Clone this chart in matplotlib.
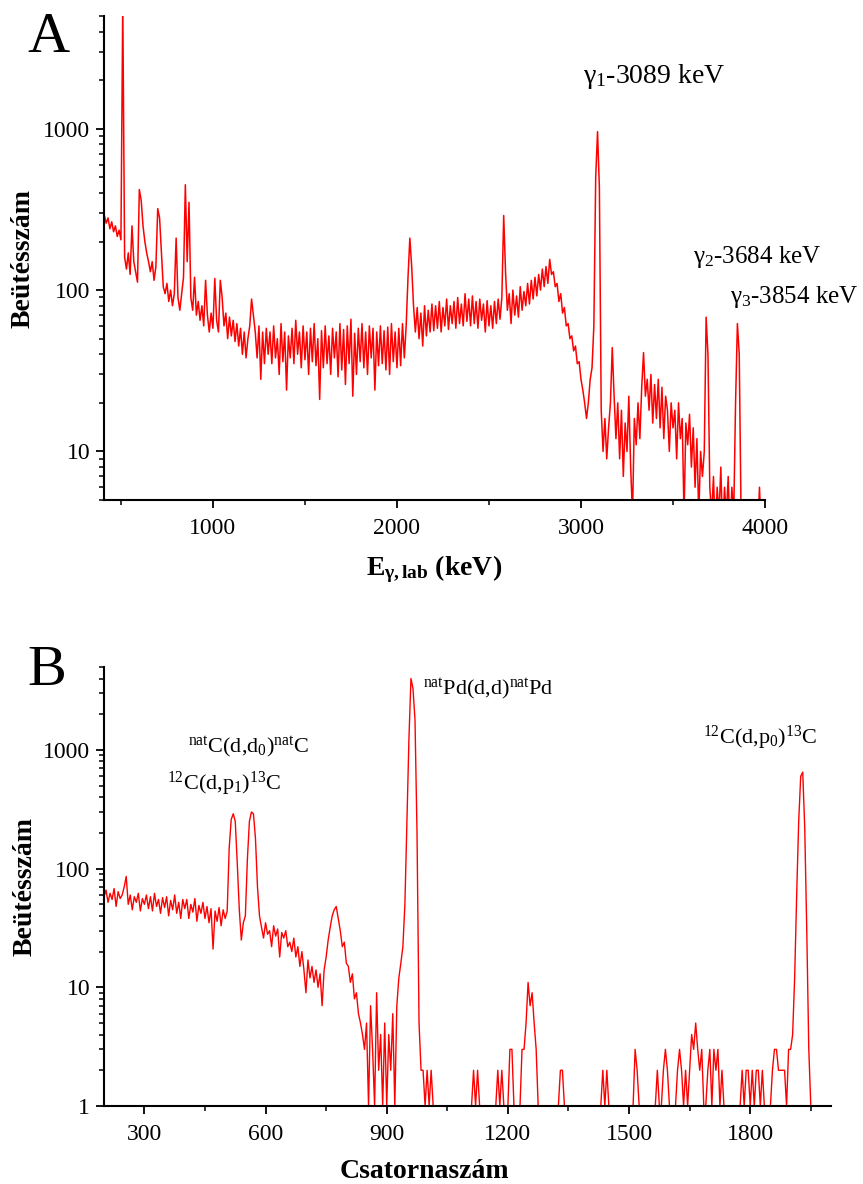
import numpy as np
import matplotlib
matplotlib.use('Agg')
import matplotlib.pyplot as plt
from matplotlib.ticker import LogLocator, MultipleLocator, NullFormatter, FuncFormatter

plt.rcParams['font.family'] = ['Liberation Serif', 'DejaVu Serif']
plt.rcParams['mathtext.fontset'] = 'custom'
plt.rcParams['mathtext.rm'] = 'Liberation Serif'
plt.rcParams['mathtext.it'] = 'Liberation Serif:italic'
plt.rcParams['mathtext.bf'] = 'Liberation Serif:bold'

# ---------------- Panel A: gamma spectrum (counts every 10 keV from 410 keV) ----------------
energy_start_keV = 410
energy_step_keV = 10
counts_A = [
    290, 260, 280, 240, 265, 230, 250, 215, 235, 205,      # 410-500
    6000, 160, 135, 170, 125, 250, 150, 130, 112, 420,     # 510-600
    360, 250, 200, 170, 150, 130, 150, 115, 140, 320,      # 610-700
    280, 170, 105, 95, 110, 85, 100, 80, 95, 210,          # 710-800
    90, 75, 95, 120, 450, 150, 350, 90, 75, 120,           # 810-900
    70, 85, 65, 80, 60, 115, 70, 55, 72, 58,               # 910-1000
    118, 65, 55, 115, 90, 60, 72, 50, 68, 52,              # 1010-1100
    65, 48, 62, 45, 58, 40, 55, 38, 50, 60,                # 1110-1200
    88, 70, 55, 38, 60, 28, 55, 35, 58, 40,                # 1210-1300
    55, 35, 60, 38, 50, 30, 62, 36, 55, 24,                # 1310-1400
    52, 38, 58, 35, 65, 40, 55, 33, 60, 37,                # 1410-1500
    55, 30, 58, 36, 62, 34, 50, 21, 56, 33,                # 1510-1600
    60, 35, 52, 30, 58, 38, 55, 29, 62, 32,                # 1610-1700
    57, 26, 60, 35, 66, 22, 54, 30, 58, 36,                # 1710-1800
    62, 33, 55, 30, 60, 38, 58, 24, 55, 34,                # 1810-1900
    60, 35, 56, 32, 59, 30, 62, 36, 55, 33,                # 1910-2000
    58, 34, 62, 38, 60, 120, 210, 140, 80, 55,             # 2010-2100
    78, 50, 72, 45, 80, 52, 75, 55, 82, 56,                # 2110-2200
    80, 58, 85, 55, 78, 60, 88, 57, 80, 62,                # 2210-2300
    85, 58, 90, 62, 82, 60, 95, 64, 88, 60,                # 2310-2400
    92, 62, 85, 58, 88, 65, 82, 55, 86, 60,                # 2410-2500
    80, 58, 85, 62, 88, 66, 90, 290, 130, 75,              # 2510-2600
    95, 62, 100, 70, 92, 68, 105, 75, 98, 80,              # 2610-2700
    110, 82, 115, 88, 120, 92, 125, 100, 135, 105,         # 2710-2800
    140, 110, 155, 125, 130, 105, 110, 85, 95, 72,         # 2810-2900
    78, 60, 62, 50, 52, 42, 45, 35, 36, 28,                # 2910-3000
    24, 20, 16, 20, 28, 33, 60, 500, 960, 430,             # 3010-3100
    18, 10, 16, 9, 14, 20, 44, 22, 12, 20,                 # 3110-3200
    9, 18, 7, 15, 10, 22, 8, 4, 16, 11,                    # 3210-3300
    20, 12, 25, 41, 22, 28, 18, 30, 15, 26,                # 3310-3400
    16, 28, 14, 25, 12, 22, 18, 10, 20, 14,                # 3410-3500
    18, 9, 20, 12, 16, 4, 15, 11, 17, 8,                   # 3510-3600
    14, 6, 12, 4, 10, 7, 10, 68, 40, 6,                    # 3610-3700
    4, 7, 3, 6, 4, 8, 3, 6, 4, 7,                          # 3710-3800
    3, 6, 4, 20, 62, 40, 4, 3, 4, 3,                       # 3810-3900
    3, 3, 3, 3, 3, 3, 6, 3, 3,                             # 3910-3990
]
labels_A = ['γ$_1$-3089 keV', 'γ$_2$-3684 keV', 'γ$_3$-3854 keV']

# ---------------- Panel B: particle spectrum (counts every 5 channels from 200) ----------------
channel_start = 200
channel_step = 5
counts_B = [
    58, 66, 52, 62, 55, 68, 48, 64, 56, 60,        # 200
    70, 86, 50, 60, 45, 58, 52, 62, 44, 56,        # 250
    50, 60, 46, 58, 44, 62, 48, 55, 42, 57,        # 300
    47, 58, 40, 54, 45, 60, 42, 52, 38, 55,        # 350
    46, 55, 38, 50, 43, 56, 36, 49, 42, 52,        # 400
    38, 48, 35, 46, 21, 44, 36, 47, 33, 45,        # 450
    38, 44, 150, 260, 290, 250, 110, 45, 25, 35,   # 500
    40, 120, 250, 300, 290, 180, 70, 40, 32, 26,   # 550
    35, 28, 30, 22, 33, 27, 31, 18, 29, 26,        # 600
    30, 22, 24, 20, 26, 18, 22, 15, 20, 14,        # 650
    9, 17, 12, 15, 11, 14, 10, 13, 7, 14,          # 700
    18, 25, 32, 40, 45, 48, 38, 30, 22, 24,        # 750
    16, 15, 11, 13, 8, 9, 6, 5, 4, 3,              # 800
    5, 1, 7, 3, 1, 9, 2, 4, 1, 5,                  # 850
    1, 4, 2, 6, 1, 7, 12, 16, 22, 50,              # 900
    250, 1240, 4000, 3300, 1800, 200, 5, 2, 2, 1,  # 950
    2, 1, 2, 1, 1, 1, 1, 1, 1, 1,                  # 1000
    1, 1, 1, 1, 1, 1, 1, 1, 1, 1,                  # 1050
    1, 1, 1, 2, 1, 2, 1, 1, 1, 1,                  # 1100
    1, 1, 1, 1, 1, 2, 1, 2, 1, 1,                  # 1150
    1, 3, 3, 1, 1, 1, 1, 3, 3, 5,                  # 1200
    11, 7, 9, 5, 3, 1, 1, 1, 1, 1,                 # 1250
    1, 1, 1, 1, 1, 1, 2, 2, 1, 1,                  # 1300
    1, 1, 1, 1, 1, 1, 1, 1, 1, 1,                  # 1350
    1, 1, 1, 1, 1, 1, 1, 2, 1, 2,                  # 1400
    1, 1, 1, 1, 1, 1, 1, 1, 1, 1,                  # 1450
    1, 1, 1, 3, 2, 1, 1, 1, 1, 1,                  # 1500
    1, 1, 1, 1, 2, 1, 1, 2, 3, 2,                  # 1550
    1, 1, 1, 1, 2, 3, 2, 1, 2, 1,                  # 1600
    2, 4, 3, 5, 3, 2, 3, 1, 1, 2,                  # 1650
    3, 1, 3, 2, 3, 1, 2, 1, 1, 1,                  # 1700
    1, 1, 1, 1, 1, 1, 2, 1, 2, 2,                  # 1750
    1, 2, 1, 2, 2, 1, 2, 1, 1, 1,                  # 1800
    1, 2, 3, 3, 2, 2, 2, 2, 1, 3,                  # 1850
    3, 4, 12, 60, 250, 600, 650, 220, 30, 3,       # 1900
    1, 1, 1, 1, 1, 1, 1, 1, 1, 1,                  # 1950
]
labels_B = [r'$^{\mathrm{nat}}$C(d,d$_0$)$^{\mathrm{nat}}$C',
            r'$^{12}$C(d,p$_1$)$^{13}$C',
            r'$^{\mathrm{nat}}$Pd(d,d)$^{\mathrm{nat}}$Pd',
            r'$^{12}$C(d,p$_0$)$^{13}$C']

energy_A = energy_start_keV + energy_step_keV * np.arange(len(counts_A))
channel_B = channel_start + channel_step * np.arange(len(counts_B))

W, H = 863, 1184
fig = plt.figure(figsize=(W / 100, H / 100), dpi=100)
fig.patch.set_facecolor('white')

def px_axes(l, t, r, b):
    return fig.add_axes([l / W, 1 - b / H, (r - l) / W, (b - t) / H])

def style(ax):
    for s in ('top', 'right'):
        ax.spines[s].set_visible(False)
    for s in ('left', 'bottom'):
        ax.spines[s].set_linewidth(1.5)
    ax.tick_params(which='major', direction='out', length=6, width=1.3, labelsize=17, pad=4)
    ax.tick_params(axis='x', which='major', pad=7)
    ax.tick_params(which='minor', direction='out', length=3.5, width=1.1)
    ax.yaxis.set_major_formatter(FuncFormatter(lambda v, p: f'{v:g}'))
    ax.yaxis.set_minor_locator(LogLocator(base=10, subs=np.arange(2, 10)))
    ax.yaxis.set_minor_formatter(NullFormatter())

red = '#ff0000'

# Panel A
axA = px_axes(104, 16, 765, 500)
axA.plot(energy_A, counts_A, color=red, lw=1.1)
axA.set_yscale('log')
axA.set_xlim(408, 4000)
axA.set_ylim(5, 5000)
axA.xaxis.set_major_locator(MultipleLocator(1000))
axA.xaxis.set_minor_locator(MultipleLocator(500))
axA.yaxis.set_major_locator(LogLocator(base=10))
style(axA)
axA.text(3011, 1930, labels_A[0], fontsize=20, ha='left', va='baseline')
axA.text(3609, 147, labels_A[1], fontsize=18, ha='left', va='baseline')
axA.text(3810, 83, labels_A[2], fontsize=18, ha='left', va='baseline')

# Panel B
axB = px_axes(104, 667, 831, 1106)
axB.plot(channel_B, counts_B, color=red, lw=1.0)
axB.set_yscale('log')
axB.set_xlim(200, 2000)
axB.set_ylim(1, 5000)
axB.xaxis.set_major_locator(MultipleLocator(300))
axB.xaxis.set_minor_locator(MultipleLocator(150))
axB.yaxis.set_major_locator(LogLocator(base=10))
style(axB)
axB.text(409, 961, labels_B[0], fontsize=16, ha='left', va='baseline')
axB.text(357, 458, labels_B[1], fontsize=16, ha='left', va='baseline')
axB.text(989, 2925, labels_B[2], fontsize=16, ha='left', va='baseline')
axB.text(1683, 1124, labels_B[3], fontsize=16, ha='left', va='baseline')

# Axis labels and panel letters
fig.text(23 / W, 1 - 258 / H, 'Beütésszám', rotation=90, fontsize=20, fontweight='bold',
         ha='center', va='center')
fig.text(25 / W, 1 - 886 / H, 'Beütésszám', rotation=90, fontsize=20, fontweight='bold',
         ha='center', va='center')
fig.text(434 / W, 1 - 569 / H, r'$\mathbf{E}_{\mathbf{γ,lab}}$ (keV)', fontsize=20,
         fontweight='bold', ha='center', va='center')
fig.text(424 / W, 1 - 1172 / H, 'Csatornaszám', fontsize=20, fontweight='bold',
         ha='center', va='center')
fig.text(27 / W, 1 - 52 / H, 'A', fontsize=42, ha='left', va='baseline')
fig.text(27 / W, 1 - 685 / H, 'B', fontsize=42, ha='left', va='baseline')

fig.savefig('out.png', dpi=100, facecolor='white')
